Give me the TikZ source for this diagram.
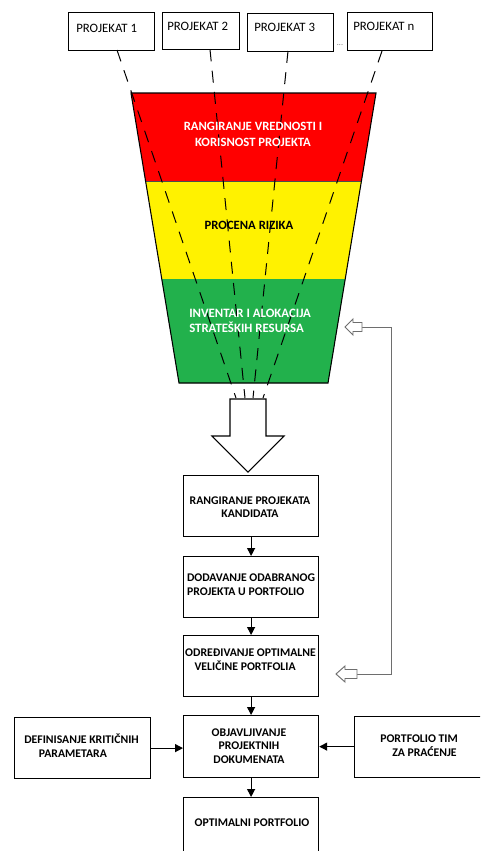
\documentclass[tikz,border=0pt]{standalone}
\usepackage{fontspec}
\setmainfont{Carlito}
\usetikzlibrary{arrows.meta}
\definecolor{fred}{RGB}{255,0,0}
\definecolor{fyellow}{RGB}{255,242,0}
\definecolor{fgreen}{RGB}{34,177,76}
\definecolor{fbgray}{RGB}{110,110,110}
\begin{document}
\begin{tikzpicture}[x=0.75pt,y=-0.75pt,
  box/.style={draw=black,line width=0.9pt,fill=white,inner sep=0pt,anchor=north west},
  projtxt/.style={inner sep=0pt,anchor=west,font=\fontsize{9.6}{11}\selectfont},
  boxtxt/.style={inner sep=0pt,font=\fontsize{8.8}{10.2}\selectfont\bfseries},
  funtxt/.style={inner sep=0pt,font=\fontsize{9.5}{12}\selectfont\bfseries},
  dashline/.style={line width=0.75pt,dash pattern=on 9pt off 7pt},
  arr/.style={line width=0.9pt,-{Triangle[length=6pt,width=6pt]}},
  fbline/.style={draw=fbgray,line width=0.7pt},
  hollow/.style={draw=fbgray,line width=0.7pt,fill=white,line join=miter}
]
\clip (0,0) rectangle (480,851);
\fill[white] (0,0) rectangle (480,851);

% project boxes
\node[box,minimum width=64.5pt,minimum height=28.5pt] (p1) at (68,12) {};
\node[box,minimum width=57.75pt,minimum height=27.75pt] (p2) at (162,12) {};
\node[box,minimum width=64.5pt,minimum height=28.5pt] (p3) at (247,13) {};
\node[box,minimum width=63.75pt,minimum height=28.5pt] (pn) at (347,12) {};
\node[projtxt] (t1) at (76,28) {PROJEKAT 1};
\node[projtxt] (t2) at (167,26) {PROJEKAT 2};
\node[projtxt] (t3) at (254,27) {PROJEKAT 3};
\node[projtxt] (tn) at (353,26) {PROJEKAT n};
\node[inner sep=0pt,font=\fontsize{6}{6}\selectfont,text=fbgray] (dots) at (340,45) {...};

% funnel
\fill[fred] (131,93) -- (376,93) -- (361.4,181) -- (145.6,181) -- cycle;
\fill[fyellow] (145.6,181) -- (361.4,181) -- (345.2,279) -- (161.8,279) -- cycle;
\fill[fgreen] (161.8,279) -- (345.2,279) -- (328,383) -- (179,383) -- cycle;
\draw[line width=0.4pt,black!70] (145.6,181) -- (361.4,181);
\draw[line width=0.8pt] (131,93) -- (376,93) -- (328,383) -- (179,383) -- cycle;

% dashed lines from projects
\coordinate (s1) at (117,50);
\coordinate (s2) at (210,49.5);
\coordinate (s3) at (288,51);
\coordinate (sn) at (382,51);
\coordinate (e1) at (236,398);
\coordinate (e2) at (245,398);
\coordinate (e3) at (253,398);
\coordinate (en) at (263,398);
\draw[dashline] (s1) -- (e1);
\draw[dashline] (s2) -- (e2);
\draw[dashline] (s3) -- (e3);
\draw[dashline] (sn) -- (en);

% funnel texts
\node[funtxt,text=white,align=center] (fr) at (253,134) {RANGIRANJE VREDNOSTI I\\KORISNOST PROJEKTA};
\node[funtxt,text=black] (fy) at (249,225) {PROCENA RIZIKA};
\node[funtxt,text=white,align=left,anchor=west,font=\fontsize{9.6}{11.25}\selectfont\bfseries] (fg) at (189,320.5) {INVENTAR I ALOKACIJA\\STRATEŠKIH RESURSA};

% big hollow arrow
\draw[line width=0.8pt,fill=white,line join=miter] (230,399) -- (266,399) -- (266,436) -- (284,436) -- (248,472) -- (212,436) -- (230,436) -- cycle;

% flow boxes
\node[box,minimum width=101.25pt,minimum height=45.75pt] (A) at (183,475) {};
\node[box,minimum width=101.25pt,minimum height=45.75pt] (B) at (183,556) {};
\node[box,minimum width=101.25pt,minimum height=45.75pt] (C) at (183,635) {};
\node[box,minimum width=101.25pt,minimum height=46.5pt] (D) at (183,715) {};
\node[box,minimum width=101.25pt,minimum height=60pt] (E) at (183,797) {};
\node[box,minimum width=102pt,minimum height=45.75pt] (L) at (14,717) {};
\node[box,minimum width=105pt,minimum height=45.75pt] (R) at (354,716) {};

\node[boxtxt,align=center] (tA) at (250,507) {RANGIRANJE PROJEKATA\\KANDIDATA};
\node[boxtxt,align=left] (tB) at (251,584.5) {DODAVANJE ODABRANOG\\PROJEKTA U PORTFOLIO};
\node[boxtxt,align=left] (tC) at (250.5,659.5) {ODREĐIVANJE OPTIMALNE\\\hspace*{7pt}VELIČINE PORTFOLIA};
\node[boxtxt,align=center] (tD) at (249,746) {OBJAVLJIVANJE\\PROJEKTNIH\\DOKUMENATA};
\node[boxtxt] (tE) at (252,823) {OPTIMALNI PORTFOLIO};
\node[boxtxt,align=left,anchor=west] (tL) at (24,745.5) {DEFINISANJE KRITIČNIH\\\hspace*{11pt}PARAMETARA};
\node[boxtxt,align=left,anchor=west] (tR) at (380,745.5) {PORTFOLIO TIM\\\hspace*{9pt}ZA PRAĆENJE};

% flow arrows
\draw[arr] (A) -- (B);
\draw[arr] (B) -- (C);
\draw[arr] (C) -- (D);
\draw[arr] (D) -- (E);
\draw[arr] (L.east) -- (L.east -| D.west);
\draw[arr] (R.west |- D.center) -- (D.east);

% feedback loop
\coordinate (fbT) at (362,327);
\coordinate (fbB) at (357,674);
\coordinate (fbR1) at (391,327);
\coordinate (fbR2) at (391,674);
\draw[fbline] (fbT) -- (fbR1) -- (fbR2) -- (fbB);
\draw[hollow] (345,327) -- (353,319) -- (353,322.5) -- (362,322.5) -- (362,331.5) -- (353,331.5) -- (353,335) -- cycle;
\draw[hollow] (336,674) -- (345,666) -- (345,669.5) -- (357,669.5) -- (357,678.5) -- (345,678.5) -- (345,682) -- cycle;
\end{tikzpicture}
\end{document}
